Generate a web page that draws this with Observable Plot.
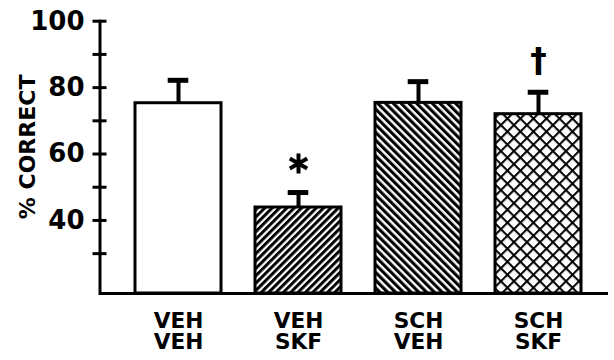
<!DOCTYPE html>
<html>
<head>
<meta charset="utf-8">
<script src="https://cdn.jsdelivr.net/npm/d3@7"></script>
<script src="https://cdn.jsdelivr.net/npm/@observablehq/plot@0.6"></script>
<style>
  html, body { margin: 0; padding: 0; background: white; }
  svg { display: block; }
</style>
</head>
<body>
<div id="chart"></div>
<script>
// ---- data ----
const groups = ["VEH\nVEH", "VEH\nSKF", "SCH\nVEH", "SCH\nSKF"];
const means = [75.3, 43.9, 75.4, 72.0];
const errTops = [82.2, 48.4, 81.8, 78.6];
const signs = ["", "*", "", "\u2020"];
const fills = ["white", "url(#hatchUp)", "url(#hatchDown)", "url(#cross)"];
const majorTicks = [40, 60, 80, 100];
const allTicks = [30, 40, 50, 60, 70, 80, 90, 100];
const yMin = 18, yMax = 100;
const yTitle = "% CORRECT";

const data = groups.map((g, i) => ({group: g, mean: means[i], top: errTops[i], sign: signs[i], fill: fills[i]}));
const font = "'DejaVu Sans', 'Liberation Sans', Arial, sans-serif";

const chart = Plot.plot({
  width: 614,
  height: 360,
  marginLeft: 99.5,
  marginRight: 6,
  marginTop: 20.7,
  marginBottom: 67,
  style: {fontFamily: font, background: "white"},
  x: {domain: groups, range: [118, 598], paddingInner: 0.28, paddingOuter: 0.14, axis: null},
  y: {domain: [yMin, yMax], label: null},
  marks: [
    Plot.barY(data, {x: "group", y1: () => yMin, y2: "mean", fill: "fill", stroke: "black", strokeWidth: 3}),
    Plot.ruleX(data, {x: "group", y1: "mean", y2: "top", stroke: "black", strokeWidth: 4}),
    Plot.tickY(data, {x: "group", y: "top", stroke: "black", strokeWidth: 5, inset: 32.7}),
    Plot.dot(data.filter(d => d.sign === "*"), {x: "group", y: "top", symbol: "asterisk", r: 9.5, stroke: "black", strokeWidth: 4, dy: -29}),
    Plot.text(data.filter(d => d.sign === "\u2020"), {x: "group", y: "top", text: "sign", fontSize: 33, fontWeight: "bold", dy: -31, fill: "black"}),
    Plot.frame({anchor: "left", stroke: "black", strokeWidth: 3}),
    Plot.ruleY([yMin], {stroke: "black", strokeWidth: 3}),
    Plot.axisY({ticks: allTicks, tickSize: 14, dx: 7, tickFormat: () => "", strokeWidth: 3, stroke: "black", label: null}),
    Plot.axisY({ticks: majorTicks, tickSize: 0, tickPadding: 15.5, fontSize: 26, fontWeight: "bold", fill: "black", label: null}),
    Plot.text(data, {x: "group", text: "group", frameAnchor: "bottom", lineAnchor: "top", dy: 18.8, lineHeight: 1.0, fontSize: 21.7, fontWeight: "bold", fill: "black"})
  ]
});

const svg = d3.select(chart);
// y-axis title, placed with the plot's own y scale
const yScale = chart.scale("y");
svg.append("text")
  .attr("transform", `translate(27,${yScale.apply(62)}) rotate(-90)`)
  .attr("text-anchor", "middle")
  .attr("dy", "0.36em")
  .attr("font-family", font)
  .attr("font-size", 22)
  .attr("font-weight", "bold")
  .attr("fill", "black")
  .text(yTitle);

// hatch patterns
const defs = svg.insert("defs", ":first-child");
function stripes(id, angle, period, black) {
  const p = defs.append("pattern").attr("id", id).attr("patternUnits", "userSpaceOnUse")
    .attr("width", period).attr("height", period).attr("patternTransform", `rotate(${angle})`);
  p.append("rect").attr("width", period).attr("height", period).attr("fill", "white");
  p.append("rect").attr("width", black).attr("height", period).attr("fill", "black");
}
stripes("hatchUp", 45, 5.2, 3.0);
stripes("hatchDown", -45, 5.5, 3.1);
{
  const period = 9.2, w = 2.1;
  const p = defs.append("pattern").attr("id", "cross").attr("patternUnits", "userSpaceOnUse")
    .attr("width", period).attr("height", period).attr("patternTransform", "rotate(45)");
  p.append("rect").attr("width", period).attr("height", period).attr("fill", "white");
  p.append("rect").attr("width", w).attr("height", period).attr("fill", "black");
  p.append("rect").attr("width", period).attr("height", w).attr("fill", "black");
}

document.getElementById("chart").appendChild(chart);
</script>
</body>
</html>
